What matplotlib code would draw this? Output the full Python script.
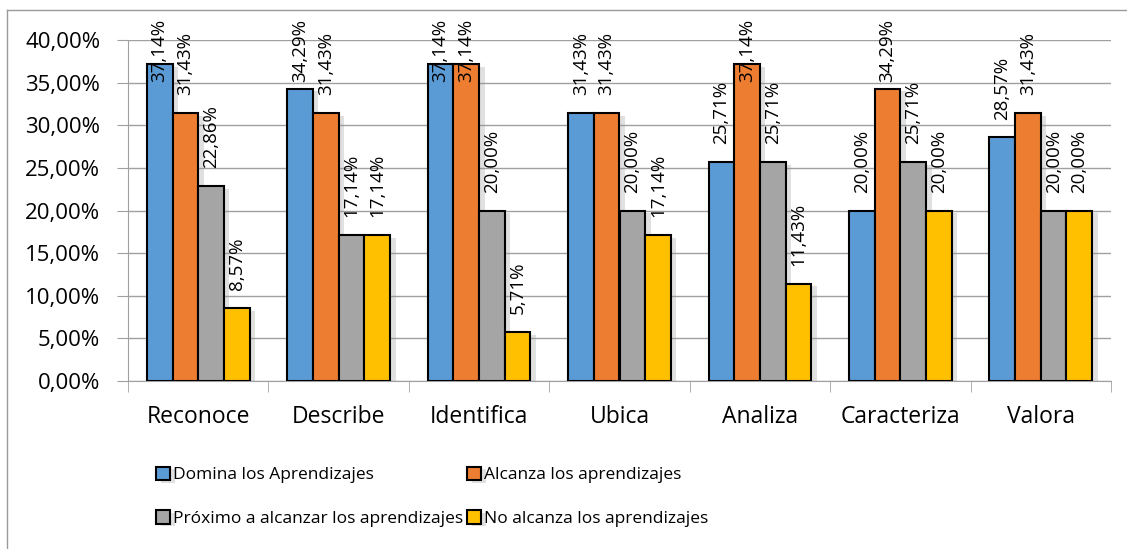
import matplotlib.pyplot as plt
import matplotlib.patheffects as pe
import numpy as np

plt.rcParams['font.family'] = ['Open Sans', 'DejaVu Sans']

categorias = ['Reconoce', 'Describe', 'Identifica', 'Ubica', 'Analiza', 'Caracteriza', 'Valora']
series = ['Domina los Aprendizajes', 'Alcanza los aprendizajes',
          'Próximo a alcanzar los aprendizajes', 'No alcanza los aprendizajes']
domina = [37.14, 34.29, 37.14, 31.43, 25.71, 20.00, 28.57]
alcanza = [31.43, 31.43, 37.14, 31.43, 37.14, 34.29, 31.43]
proximo = [22.86, 17.14, 20.00, 20.00, 25.71, 25.71, 20.00]
no_alcanza = [8.57, 17.14, 5.71, 17.14, 11.43, 20.00, 20.00]
colores = ['#5B9BD5', '#ED7D31', '#A5A5A5', '#FFC000']

valores = [domina, alcanza, proximo, no_alcanza]

fig = plt.figure(figsize=(11.27, 5.49), dpi=100)
ax = fig.add_axes([128 / 1127, 1 - 381 / 549, (1111 - 128) / 1127, (381 - 40) / 549])

# marco exterior del grafico (solo se ven borde izq. y superior)
fig.add_artist(plt.Line2D([7 / 1127, 7 / 1127], [0, 1 - 10 / 549], transform=fig.transFigure,
                          color='#9A9A9A', lw=1))
fig.add_artist(plt.Line2D([7 / 1127, 1], [1 - 10 / 549, 1 - 10 / 549], transform=fig.transFigure,
                          color='#9A9A9A', lw=1))

x = np.arange(len(categorias))
w = 0.183
sombra = [pe.SimplePatchShadow(offset=(4, -2), shadow_rgbFace='#999999', alpha=0.3), pe.Normal()]
barras = []
for i, (vals, col) in enumerate(zip(valores, colores)):
    pos = x + (i - 1.5) * w
    b = ax.bar(pos, vals, w, color=col, edgecolor='black', linewidth=1.5, zorder=3,
               label=series[i])
    for r in b:
        r.set_path_effects(sombra)
    barras.append(b)
    for p, v in zip(pos, vals):
        y = min(v + 2.1, 35.1)
        ax.text(p, y, f'{v:.2f}%'.replace('.', ','), rotation=90, ha='center', va='bottom',
                fontsize=13.5, clip_on=False, zorder=5)

ax.set_ylim(0, 40)
ax.set_xlim(-0.5, len(categorias) - 0.5)
ax.set_yticks(np.arange(0, 41, 5))
ax.set_yticklabels([f'{t:.2f}%'.replace('.', ',') for t in np.arange(0, 41, 5)], fontsize=16)
ax.yaxis.grid(True, color='#A0A0A0', lw=1, zorder=0)
ax.set_axisbelow(True)

ax.set_xticks(x)
ax.set_xticklabels(categorias, fontsize=16.5)
ax.tick_params(axis='x', length=0, pad=17)
ax.set_xticks(np.arange(-0.5, len(categorias)), minor=True)
ax.tick_params(axis='x', which='minor', length=8, color='#A0A0A0')
ax.tick_params(axis='y', length=8, color='#A0A0A0', pad=12)

for s in ['top', 'right']:
    ax.spines[s].set_visible(False)
for s in ['left', 'bottom']:
    ax.spines[s].set_color('#A0A0A0')

orden = [0, 2, 1, 3]
h = [barras[i] for i in orden]
l = [series[i] for i in orden]
fig.legend(h, l, loc='upper left', bbox_to_anchor=(147 / 1127, 1 - 458 / 549), ncol=2,
           frameon=False, fontsize=12.5, handlelength=0.8, handleheight=0.8,
           handletextpad=0.2, columnspacing=0.2, labelspacing=1.55, borderpad=0)

fig.savefig('out.png', dpi=100)
